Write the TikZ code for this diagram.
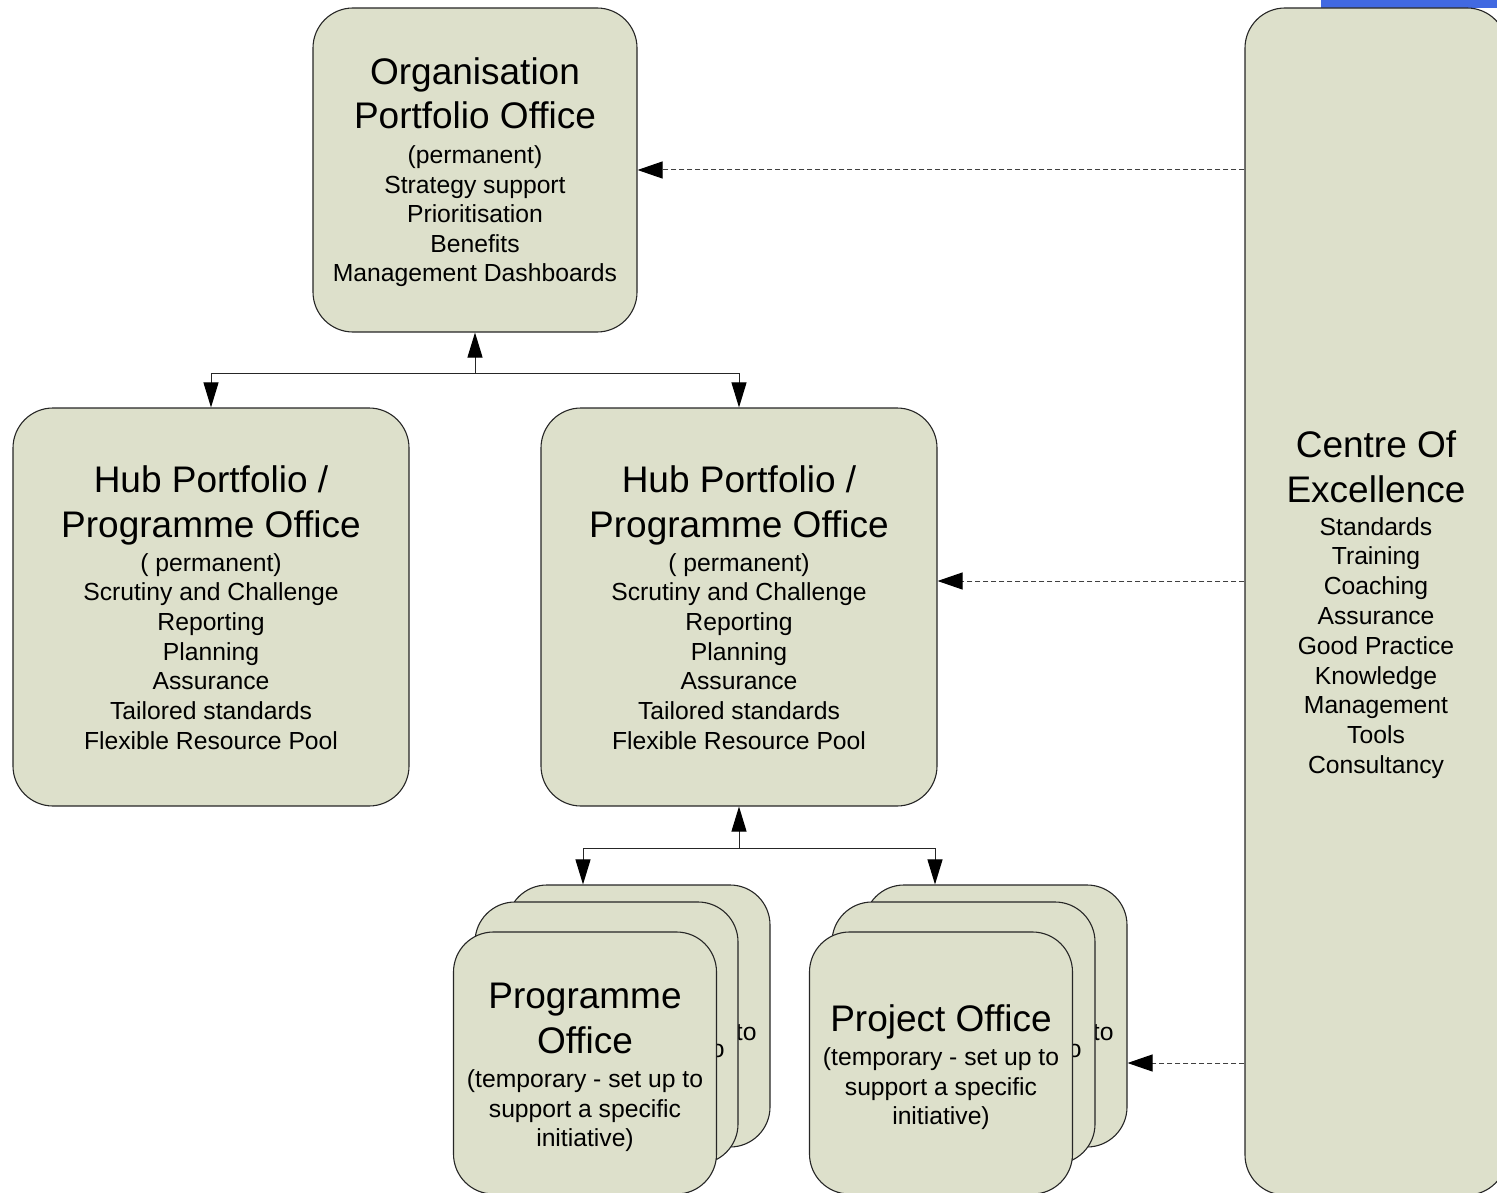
\documentclass[tikz,border=0pt]{standalone}
\usepackage{fontspec}
\setmainfont{Liberation Sans}
\usetikzlibrary{arrows.meta,calc}
\definecolor{boxfill}{RGB}{221,224,203}
\definecolor{topblue}{RGB}{65,105,225}
\newcommand\Bf{\fontsize{37}{44}\selectfont}
\newcommand\Sf{\fontsize{24.7}{29.7}\selectfont}
\newcommand\Rw[2]{\rule{0pt}{#1pt}\smash{#2}}
\newcommand\Stk[1]{\vtop{\offinterlineskip\halign{\hfil##\hfil\cr#1\crcr}}}
\newcommand\progtxt{\Stk{\Rw{0}{\Bf Programme}\cr\Rw{45}{\Bf Office}\cr\Rw{34}{\Sf (temporary - set up to}\cr\Rw{30}{\Sf support a specific}\cr\Rw{29}{\Sf initiative)}}}
\newcommand\hubtxt{\Stk{\Rw{0}{\Bf Hub Portfolio /}\cr\Rw{45}{\Bf Programme Office}\cr\Rw{34}{\Sf ( permanent)}\cr\Rw{29.7}{\Sf Scrutiny and Challenge}\cr\Rw{29.7}{\Sf Reporting}\cr\Rw{29.7}{\Sf Planning}\cr\Rw{29.7}{\Sf Assurance}\cr\Rw{29.7}{\Sf Tailored standards}\cr\Rw{29.7}{\Sf Flexible Resource Pool}}}
\begin{document}
\begin{tikzpicture}[x=1pt,y=-1pt,
  box/.style={draw=black!85, fill=boxfill, rounded corners=40pt, line width=1.1pt, inner sep=0pt, text height=0pt},
  small/.style={box, minimum width=263pt, minimum height=262pt},
  conn/.style={draw=black!85, line width=1pt},
  solidarr/.style={conn, -{Triangle[length=25pt,width=15pt,fill=black,color=black]}},
  dasharr/.style={draw=black!75, line width=1pt, dash pattern=on 5pt off 3pt, -{Triangle[length=25pt,width=17pt,fill=black,color=black]}}]
\useasboundingbox (0,0) rectangle (1497,1193);
\clip (0,0) rectangle (1497,1193);
\fill[topblue] (1321,0) rectangle (1497,8);

\node[box, minimum width=324pt, minimum height=324pt, text depth=170pt] (org) at (475,170)
 {\Stk{\Rw{0}{\Bf Organisation}\cr\Rw{44}{\Bf Portfolio Office}\cr\Rw{35}{\Sf (permanent)}\cr\Rw{29.5}{\Sf Strategy support}\cr\Rw{29.5}{\Sf Prioritisation}\cr\Rw{29.5}{\Sf Benefits}\cr\Rw{29.5}{\Sf Management Dashboards}}};
\node[box, minimum width=396pt, minimum height=398pt, text depth=230pt] (hubl) at (211,607) {\hubtxt};
\node[box, minimum width=396pt, minimum height=398pt, text depth=230pt] (hubm) at (739,607) {\hubtxt};
\node[box, minimum width=262pt, minimum height=1187pt, text depth=289pt] (coe) at (1376,601.5)
 {\Stk{\Rw{0}{\Bf Centre Of}\cr\Rw{45}{\Bf Excellence}\cr\Rw{33}{\Sf Standards}\cr\Rw{29.8}{\Sf Training}\cr\Rw{29.8}{\Sf Coaching}\cr\Rw{29.8}{\Sf Assurance}\cr\Rw{29.8}{\Sf Good Practice}\cr\Rw{29.8}{\Sf Knowledge}\cr\Rw{29.8}{\Sf Management}\cr\Rw{29.8}{\Sf Tools}\cr\Rw{29.8}{\Sf Consultancy}}};

\node[small, text depth=110pt] (pgb) at (638.5,1016) {\progtxt};
\node[small, text depth=110pt] (pgm) at (606.5,1033) {\progtxt};
\node[small, text depth=110pt] (pgf) at (585,1063) {\progtxt};
\node[small, text depth=110pt] (pjb) at (995.5,1016) {\progtxt};
\node[small, text depth=110pt] (pjm) at (963.5,1033) {\progtxt};
\node[small, text depth=64pt] (pjf) at (941,1063)
 {\Stk{\Rw{0}{\Bf Project Office}\cr\Rw{34}{\Sf (temporary - set up to}\cr\Rw{30}{\Sf support a specific}\cr\Rw{29}{\Sf initiative)}}};

\coordinate (j1) at (475,373);
\draw[solidarr] (j1) -- (org.south);
\draw[solidarr] (j1) -| (hubl.north);
\draw[solidarr] (j1) -| (hubm.north);
\coordinate (j2) at (739,848);
\draw[solidarr] (j2) -- (hubm.south);
\draw[solidarr] (j2) -| ($(pgb.north)+(-55.5,0)$);
\draw[solidarr] (j2) -| ($(pjb.north)+(-60.5,0)$);

\coordinate (hm) at ($(hubm.east)+(0,-26)$);
\draw[dasharr] (coe.west |- org.east) -- (org.east);
\draw[dasharr] (coe.west |- hm) -- (hm);
\draw[dasharr] (coe.west |- pjf.center) -- (pjb.east |- pjf.center);
\end{tikzpicture}
\end{document}
